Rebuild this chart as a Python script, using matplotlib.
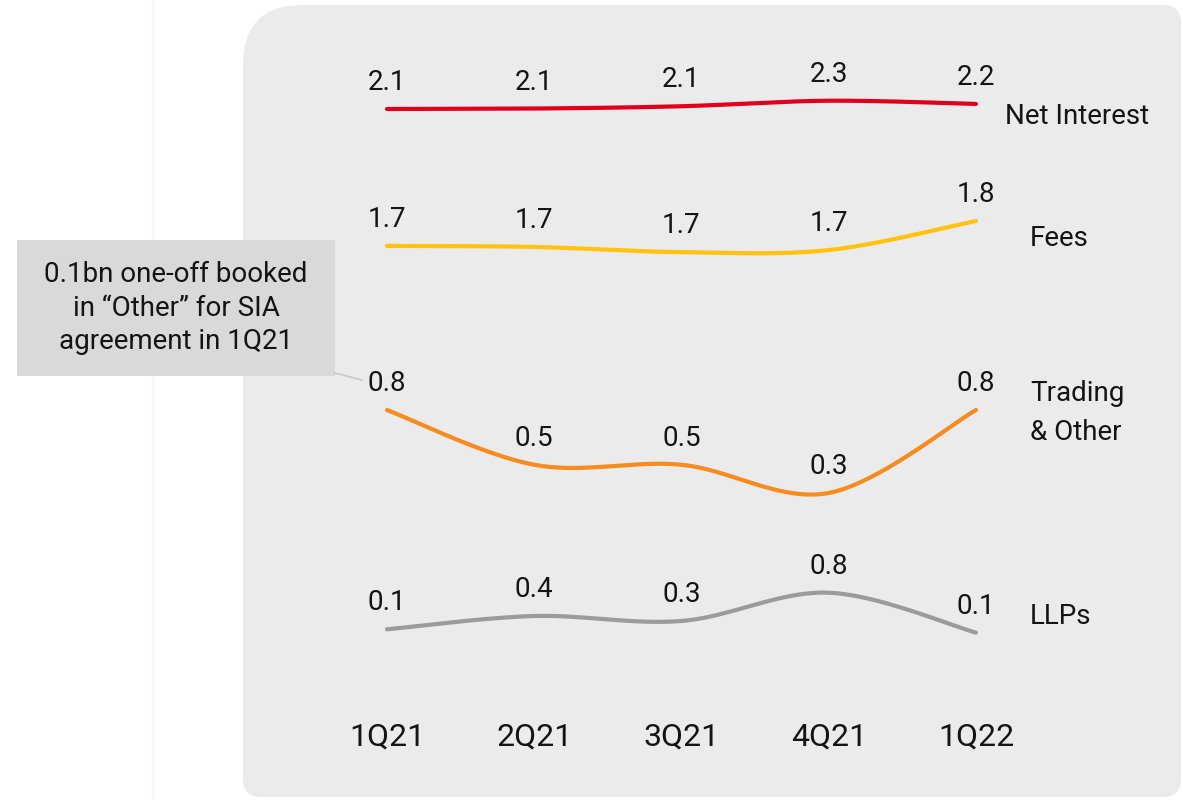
import numpy as np
import matplotlib
matplotlib.use("Agg")
import matplotlib.pyplot as plt
from matplotlib.path import Path
from matplotlib.patches import PathPatch, Rectangle
from matplotlib.lines import Line2D
from matplotlib.transforms import blended_transform_factory

# ── data ──────────────────────────────────────────────────────────────────────
quarters     = ["1Q21", "2Q21", "3Q21", "4Q21", "1Q22"]
net_interest = [2.08, 2.09, 2.14, 2.26, 2.19]
fees         = [1.72, 1.715, 1.69, 1.70, 1.84]
trading      = [0.80, 0.47, 0.47, 0.30, 0.80]
llps         = [0.12, 0.36, 0.27, 0.78, 0.06]
note_text    = "0.1bn one-off booked\nin \u201cOther\u201d for SIA\nagreement in 1Q21"

# ── style ─────────────────────────────────────────────────────────────────────
plt.rcParams.update({
    "font.family": ["Roboto", "DejaVu Sans"],
    "font.size":   20,
    "text.color":  "#141414",
})

W, H = 1183, 800
fig = plt.figure(figsize=(W / 100, H / 100), dpi=100)

def fx(px):
    return px / W

def fy(py):
    return 1 - py / H

# background panel: big rounded top-left corner, small elsewhere
def panel_path(x0, y0, x1, y1, r_big, r_small):
    # pixel coords (y down) -> inches (y up)
    def p(x, y):
        return (x / 100, (H - y) / 100)
    verts = [p(x0 + r_big, y0), p(x1 - r_small, y0), p(x1, y0), p(x1, y0 + r_small),
             p(x1, y1 - r_small), p(x1, y1), p(x1 - r_small, y1),
             p(x0 + r_small, y1), p(x0, y1), p(x0, y1 - r_small),
             p(x0, y0 + r_big), p(x0, y0), p(x0 + r_big, y0), p(x0 + r_big, y0)]
    codes = [Path.MOVETO, Path.LINETO, Path.CURVE3, Path.CURVE3,
             Path.LINETO, Path.CURVE3, Path.CURVE3,
             Path.LINETO, Path.CURVE3, Path.CURVE3,
             Path.LINETO, Path.CURVE3, Path.CURVE3, Path.CLOSEPOLY]
    return Path(verts, codes)

fig.patches.append(PathPatch(panel_path(243, 5, 1181, 797, 60, 18),
                             transform=fig.dpi_scale_trans,
                             facecolor="#EBEBEB", edgecolor="none", zorder=-3))
fig.add_artist(Line2D([fx(153), fx(153)], [0, 1], color="#F6F6F6",
                      linewidth=1.5, zorder=-3))

# ── smoothing (Catmull-Rom) ───────────────────────────────────────────────────
def smooth(xs, ys, n=40):
    pts = np.column_stack([xs, ys]).astype(float)
    pts = np.vstack([pts[0], pts, pts[-1]])
    out = []
    t = np.linspace(0, 1, n)[:, None]
    for i in range(1, len(pts) - 2):
        p0, p1, p2, p3 = pts[i - 1], pts[i], pts[i + 1], pts[i + 2]
        seg = 0.5 * (2 * p1 + (-p0 + p2) * t
                     + (2 * p0 - 5 * p1 + 4 * p2 - p3) * t ** 2
                     + (-p0 + 3 * p1 - 3 * p2 + p3) * t ** 3)
        out.append(seg if i == 1 else seg[1:])
    out = np.vstack(out)
    return out[:, 0], out[:, 1]

# ── one strip per series ──────────────────────────────────────────────────────
x = np.arange(len(quarters))
left_px, right_px = 313.4, 1049.6

series = [
    # values, colour, band (top, bottom px), ylim, label, label pos (px)
    (net_interest, "#E2001A", (50, 160),  (0.971, 3.363), "Net Interest",     (1005, 116)),
    (fees,         "#FFC20E", (170, 290), (1.508, 2.085), "Fees",             (1030, 238)),
    (trading,      "#F68B1F", (340, 520), (0.137, 1.222), "Trading\n& Other", (1030, 413)),
    (llps,         "#9B9B9B", (550, 660), (-0.433, 1.549), "LLPs",            (1030, 617)),
]

axes = []
for vals, color, (top, bot), ylim, name, (lx, ly) in series:
    ax = fig.add_axes([fx(left_px), fy(bot), fx(right_px) - fx(left_px), (bot - top) / H])
    ax.set_xlim(-0.5, len(quarters) - 0.5)
    ax.set_ylim(*ylim)
    ax.axis("off")
    sx, sy = smooth(x, vals)
    ax.plot(sx, sy, color=color, linewidth=3.0, solid_capstyle="round",
            clip_on=False)
    for xi, v in zip(x, vals):
        ax.annotate(f"{v:.1f}", xy=(xi, v), xytext=(0, 19),
                    textcoords="offset points", ha="center", va="center",
                    fontsize=20, annotation_clip=False)
    fig.text(fx(lx), fy(ly), name, ha="left", va="center", fontsize=20,
             linespacing=1.55)
    axes.append(ax)

# category labels along the bottom
trans = blended_transform_factory(axes[-1].transData, fig.transFigure)
for xi, q in zip(x, quarters):
    axes[-1].text(xi, fy(737), q, transform=trans, ha="center", va="center",
                  fontsize=23, clip_on=False)

# ── note box ──────────────────────────────────────────────────────────────────
fig.patches.append(Rectangle((fx(17), fy(376)), fx(335) - fx(17), (376 - 240) / H,
                             transform=fig.transFigure, facecolor="#D9D9D9",
                             edgecolor="none", zorder=1))
fig.text(fx(176), fy(308), note_text, ha="center", va="center", fontsize=20,
         linespacing=1.33, zorder=2)
fig.add_artist(Line2D([fx(335), fx(362)], [fy(373), fy(380)], color="#C8C8C8",
                      linewidth=1.2))

fig.savefig("out.png", dpi=100)
